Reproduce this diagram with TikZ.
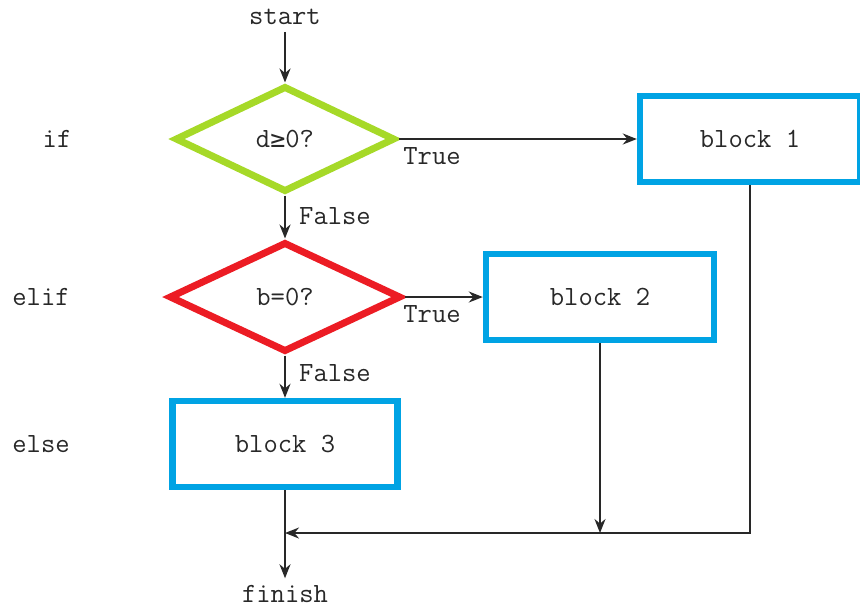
\documentclass[tikz,border=0pt]{standalone}
\usepackage{fontspec}
\usepackage{xcolor}
\usepackage{tikz}
\usetikzlibrary{shapes, arrows.meta, positioning, calc}
\newfontfamily\signfont[Scale=0.9]{DejaVu Sans Mono}
\tikzset{
    codefont/.style = {font=\ttfamily\fontsize{13.9pt}{16pt}\selectfont},
    textnode/.style = {draw=none, fill=none, rectangle, codefont, text=inkgray, node distance=0em},
    decisionnode/.style = {draw, diamond, line width=3.5pt, codefont, text=inkgray, inner sep=0em,
      node distance=0em},
    blocknode/.style = {draw=blockblue, rectangle, line width=3.2pt, codefont, text=inkgray,
      minimum height=43pt, node distance=0em},
    connect/.style = {draw=inkgray, line width=1pt, -{Stealth[length=7pt, width=5.5pt]}},
    every text node part/.style={align=center}
}
\definecolor{ifgreen}{RGB}{166,217,40}
\definecolor{elifred}{RGB}{236,28,36}
\definecolor{blockblue}{RGB}{0,163,228}
\definecolor{inkgray}{RGB}{40,40,40}

\begin{document}
\begin{tikzpicture}
    \useasboundingbox (0,0) rectangle (430pt,-303.5pt);

    \node [textnode, name=start] at (142.5pt,-8.5pt) {start};
    \node [decisionnode, draw=ifgreen, name=ifcheck, below of=start, yshift=-61pt,
        minimum width=110pt, minimum height=53pt] {d{\signfont ≥}0?};
    \node [decisionnode, draw=elifred, name=elifcheck, below of=ifcheck, yshift=-79pt,
        minimum width=116pt, minimum height=55pt] {b=0?};
    \node [blocknode, name=blockthree, below of=elifcheck, yshift=-73.5pt, minimum width=112.5pt] {block 3};
    \node [textnode, name=finish, below of=blockthree, yshift=-75pt] {finish};

    \node [blocknode, name=blockone, right of=ifcheck, xshift=232.5pt, minimum width=110pt] {block 1};
    \node [blocknode, name=blocktwo, right of=elifcheck, xshift=157.5pt, minimum width=114pt] {block 2};

    % branch names on the left
    \node [textnode, name=iflabel, left of=ifcheck, xshift=-114pt] {if};
    \node [textnode, name=eliflabel, left of=elifcheck, xshift=-122pt] {elif};
    \node [textnode, name=elselabel, left of=blockthree, xshift=-122pt] {else};

    \node [textnode, name=trueone, right of=ifcheck, xshift=73.5pt, yshift=-8.5pt] {True};
    \node [textnode, name=truetwo, right of=elifcheck, xshift=73.5pt, yshift=-8.5pt] {True};
    \node [textnode, name=falseone, below of=ifcheck, xshift=25pt, yshift=-38.5pt] {False};
    \node [textnode, name=falsetwo, below of=elifcheck, xshift=25pt, yshift=-38pt] {False};

    \coordinate [name=merge, below of=blockthree, node distance=0em, yshift=-44.5pt];

    \draw (start) edge[connect] (ifcheck);
    \draw (ifcheck) edge[connect] (blockone);
    \draw (ifcheck) edge[connect] (elifcheck);
    \draw (elifcheck) edge[connect] (blocktwo);
    \draw (elifcheck) edge[connect] (blockthree);
    \draw (blockthree) edge[connect] (finish);
    \draw [connect] (blockone.south) |- (merge);
    \draw [connect] (blocktwo.south) -- (blocktwo.south |- merge);
\end{tikzpicture}
\end{document}
